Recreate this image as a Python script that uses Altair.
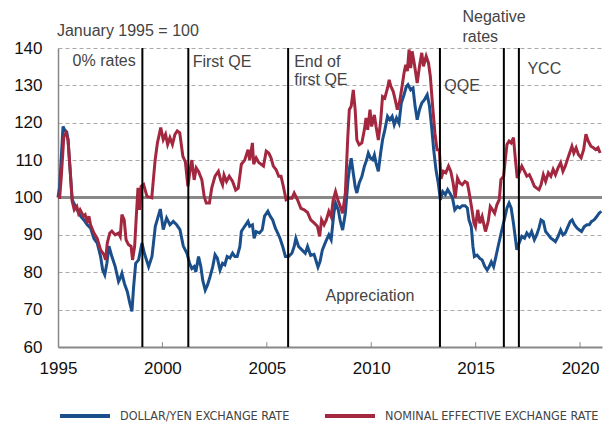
import altair as alt
import pandas as pd

S1 = "DOLLAR/YEN EXCHANGE RATE"
S2 = "NOMINAL EFFECTIVE EXCHANGE RATE"
BLUE = "#1b4f8b"
RED = "#a3283f"

blue_years = [1995.00, 1995.08, 1995.24, 1995.32, 1995.42, 1995.48, 1995.60, 1995.68, 1995.76, 1995.92,
              1996.08, 1996.24, 1996.40, 1996.56, 1996.72, 1996.88, 1997.04, 1997.14, 1997.24, 1997.34,
              1997.44, 1997.58, 1997.74, 1997.90, 1997.98, 1998.06, 1998.18, 1998.32, 1998.44, 1998.54,
              1998.62, 1998.72, 1998.86, 1999.02, 1999.14, 1999.34, 1999.50, 1999.66, 1999.90, 2000.04,
              2000.20, 2000.36, 2000.52, 2000.68, 2000.84, 2001.00, 2001.18, 2001.30, 2001.41, 2001.52,
              2001.60, 2001.73, 2001.84, 2001.93, 2002.05, 2002.16, 2002.28, 2002.41, 2002.52, 2002.63,
              2002.76, 2002.88, 2002.99, 2003.10, 2003.23, 2003.36, 2003.47, 2003.58, 2003.71, 2003.78,
              2003.94, 2004.10, 2004.18, 2004.31, 2004.39, 2004.49, 2004.65, 2004.78, 2004.89, 2005.05,
              2005.16, 2005.28, 2005.41, 2005.52, 2005.63, 2005.76, 2005.89, 2006.04, 2006.20, 2006.31,
              2006.39, 2006.52, 2006.68, 2006.84, 2006.95, 2007.10, 2007.26, 2007.45, 2007.55, 2007.66,
              2007.82, 2007.97, 2008.08, 2008.21, 2008.29, 2008.42, 2008.52, 2008.63, 2008.76, 2008.89,
              2008.97, 2009.04, 2009.14, 2009.23, 2009.31, 2009.42, 2009.55, 2009.67, 2009.78, 2009.86,
              2009.97, 2010.07, 2010.15, 2010.23, 2010.34, 2010.45, 2010.54, 2010.65, 2010.78, 2010.89,
              2011.00, 2011.10, 2011.21, 2011.33, 2011.44, 2011.57, 2011.68, 2011.76, 2011.89, 2012.00,
              2012.10, 2012.20, 2012.31, 2012.42, 2012.55, 2012.68, 2012.79, 2012.89, 2012.99, 2013.10,
              2013.21, 2013.31, 2013.42, 2013.55, 2013.66, 2013.76, 2013.89, 2014.00, 2014.13, 2014.24,
              2014.36, 2014.49, 2014.60, 2014.68, 2014.79, 2014.87, 2014.94, 2015.07, 2015.20, 2015.31,
              2015.44, 2015.55, 2015.65, 2015.75, 2015.86, 2015.97, 2016.09, 2016.22, 2016.37, 2016.50,
              2016.60, 2016.70, 2016.81, 2016.89, 2016.97, 2017.08, 2017.21, 2017.34, 2017.45, 2017.57,
              2017.68, 2017.81, 2017.92, 2018.03, 2018.13, 2018.24, 2018.35, 2018.48, 2018.60, 2018.71,
              2018.82, 2018.95, 2019.07, 2019.18, 2019.29, 2019.42, 2019.53, 2019.62, 2019.73, 2019.86,
              2019.97, 2020.07, 2020.20, 2020.33, 2020.44, 2020.55, 2020.67, 2020.80, 2020.91, 2021.02]
blue_vals = [100.0, 103.0, 119.0, 118.0, 117.5, 115.5, 105.7, 99.4, 98.5, 96.7,
             95.0, 94.0, 92.7, 91.8, 89.0, 87.8, 84.2, 80.6, 79.3, 82.4,
             87.0, 84.2, 81.5, 77.5, 78.4, 79.7, 77.0, 74.8, 71.7, 69.5,
             76.0, 82.4, 83.3, 87.8, 85.0, 81.5, 84.2, 92.3, 96.9, 91.4,
             94.5, 92.7, 93.6, 92.7, 91.4, 87.0, 85.0, 82.4, 81.0, 81.5,
             80.1, 84.2, 81.5, 77.9, 75.2, 76.6, 78.8, 81.5, 84.7, 83.8,
             80.6, 82.4, 82.0, 84.2, 83.8, 85.1, 84.2, 84.2, 86.9, 90.9,
             92.3, 93.6, 92.3, 92.7, 89.1, 90.9, 90.5, 91.4, 95.0, 96.3,
             95.0, 94.0, 91.8, 90.5, 89.1, 86.9, 84.2, 84.2, 85.1, 86.9,
             89.1, 86.9, 86.0, 85.1, 86.9, 84.5, 84.8, 81.4, 82.9, 86.0,
             88.2, 90.0, 88.7, 95.8, 98.5, 96.7, 93.6, 91.3, 95.8, 104.7,
             108.3, 110.5, 106.5, 102.9, 101.2, 103.8, 105.6, 108.3, 110.1, 111.9,
             110.5, 110.1, 111.4, 109.2, 107.0, 111.9, 115.4, 118.1, 121.7, 120.8,
             121.7, 119.5, 121.3, 119.9, 125.3, 127.5, 129.7, 130.2, 128.8, 129.3,
             124.4, 120.8, 123.5, 125.3, 126.2, 127.5, 124.4, 119.0, 112.8, 107.4,
             103.8, 99.4, 101.6, 100.8, 102.1, 101.2, 99.9, 96.7, 97.6, 97.2,
             97.8, 97.8, 97.2, 94.0, 92.2, 86.9, 84.2, 84.6, 83.7, 83.3,
             81.5, 80.6, 81.5, 82.8, 81.5, 84.2, 87.3, 90.5, 94.0, 97.2,
             98.5, 97.2, 93.1, 89.6, 86.0, 87.8, 89.6, 89.1, 90.5, 89.6,
             90.9, 88.7, 90.0, 91.8, 94.0, 93.6, 90.9, 90.0, 89.1, 88.7,
             88.2, 89.6, 91.3, 90.0, 90.5, 92.2, 93.6, 94.0, 92.7, 91.8,
             91.3, 90.9, 92.2, 92.7, 92.7, 93.6, 94.0, 94.9, 95.8, 96.3]

red_years = [1995.00, 1995.08, 1995.16, 1995.28, 1995.38, 1995.48, 1995.58, 1995.68, 1995.78, 1995.90,
             1995.98, 1996.06, 1996.22, 1996.30, 1996.40, 1996.48, 1996.56, 1996.72, 1996.88, 1997.04,
             1997.20, 1997.28, 1997.36, 1997.48, 1997.58, 1997.74, 1997.90, 1997.98, 1998.06, 1998.17,
             1998.26, 1998.37, 1998.50, 1998.57, 1998.67, 1998.75, 1998.83, 1998.91, 1998.98, 1999.10,
             1999.26, 1999.49, 1999.65, 1999.76, 1999.92, 2000.04, 2000.15, 2000.25, 2000.36, 2000.48,
             2000.60, 2000.71, 2000.83, 2000.98, 2001.10, 2001.22, 2001.33, 2001.41, 2001.52, 2001.62,
             2001.73, 2001.89, 2002.00, 2002.10, 2002.25, 2002.36, 2002.52, 2002.68, 2002.79, 2002.88,
             2002.95, 2003.07, 2003.20, 2003.36, 2003.51, 2003.63, 2003.78, 2003.94, 2004.10, 2004.18,
             2004.31, 2004.37, 2004.49, 2004.62, 2004.73, 2004.84, 2004.97, 2005.09, 2005.20, 2005.31,
             2005.44, 2005.57, 2005.68, 2005.79, 2005.92, 2006.04, 2006.20, 2006.31, 2006.47, 2006.63,
             2006.79, 2006.95, 2007.10, 2007.26, 2007.42, 2007.53, 2007.62, 2007.74, 2007.85, 2007.97,
             2008.08, 2008.18, 2008.29, 2008.40, 2008.52, 2008.63, 2008.76, 2008.87, 2008.95, 2009.04,
             2009.14, 2009.23, 2009.31, 2009.42, 2009.55, 2009.67, 2009.75, 2009.83, 2009.94, 2010.02,
             2010.15, 2010.23, 2010.34, 2010.45, 2010.54, 2010.65, 2010.78, 2010.86, 2010.94, 2011.05,
             2011.13, 2011.25, 2011.36, 2011.44, 2011.57, 2011.65, 2011.73, 2011.81, 2011.89, 2011.96,
             2012.07, 2012.20, 2012.31, 2012.42, 2012.50, 2012.63, 2012.74, 2012.83, 2012.94, 2013.05,
             2013.15, 2013.26, 2013.34, 2013.45, 2013.57, 2013.70, 2013.81, 2013.92, 2014.02, 2014.13,
             2014.24, 2014.36, 2014.49, 2014.60, 2014.68, 2014.81, 2014.92, 2014.99, 2015.10, 2015.20,
             2015.31, 2015.47, 2015.60, 2015.70, 2015.81, 2015.91, 2016.02, 2016.13, 2016.21, 2016.34,
             2016.42, 2016.50, 2016.60, 2016.70, 2016.81, 2016.89, 2016.99, 2017.08, 2017.21, 2017.34,
             2017.45, 2017.57, 2017.68, 2017.81, 2017.92, 2018.03, 2018.13, 2018.24, 2018.35, 2018.48,
             2018.60, 2018.71, 2018.82, 2018.95, 2019.07, 2019.18, 2019.29, 2019.42, 2019.50, 2019.61,
             2019.70, 2019.81, 2019.92, 2020.05, 2020.17, 2020.28, 2020.39, 2020.52, 2020.64, 2020.75,
             2020.86, 2020.96]
red_vals = [100.0, 100.0, 105.7, 116.4, 117.3, 115.5, 107.5, 99.0, 96.7, 97.6,
            95.8, 96.7, 95.0, 95.4, 93.2, 95.0, 92.7, 90.5, 89.0, 86.0,
            84.7, 83.3, 87.8, 90.5, 91.0, 90.0, 90.5, 89.6, 95.4, 94.0,
            88.7, 87.4, 86.9, 83.3, 86.9, 95.0, 102.6, 96.7, 103.0, 103.5,
            100.3, 99.9, 110.0, 114.6, 118.7, 115.5, 116.9, 114.2, 116.0, 114.2,
            116.9, 117.8, 117.3, 111.0, 109.5, 103.0, 107.5, 110.0, 104.7, 107.9,
            107.0, 104.7, 100.3, 98.5, 98.5, 102.5, 105.7, 107.0, 104.7, 103.4,
            106.0, 104.3, 105.7, 104.3, 102.0, 102.5, 108.9, 110.0, 112.8, 110.0,
            114.6, 108.9, 110.6, 109.3, 108.9, 108.4, 112.4, 111.9, 110.6, 108.4,
            107.5, 105.7, 105.7, 103.0, 99.4, 99.8, 99.8, 101.2, 99.4, 97.1,
            96.7, 96.0, 94.0, 93.2, 92.3, 89.6, 94.0, 92.7, 94.0, 96.3,
            94.9, 99.4, 101.6, 99.4, 97.6, 95.8, 101.2, 115.4, 123.5, 124.4,
            128.8, 123.5, 115.4, 114.1, 114.6, 118.1, 121.3, 118.1, 123.5, 119.0,
            122.1, 119.0, 115.4, 120.4, 127.0, 126.6, 129.3, 131.5, 129.7, 128.4,
            126.6, 123.5, 125.7, 128.4, 133.3, 135.5, 133.8, 139.6, 134.6, 139.1,
            135.5, 130.6, 135.1, 138.7, 135.1, 137.8, 136.0, 132.4, 124.4, 117.2,
            112.8, 112.8, 105.0, 107.0, 106.6, 108.4, 107.0, 103.9, 99.9, 105.2,
            103.9, 103.4, 104.3, 103.9, 101.6, 97.2, 93.1, 92.2, 96.7, 93.1,
            94.9, 90.9, 93.6, 97.6, 96.7, 95.8, 98.1, 99.4, 104.8, 105.7,
            110.2, 114.2, 115.1, 114.6, 116.0, 111.0, 105.2, 106.6, 108.4, 107.0,
            105.7, 106.1, 104.8, 103.0, 102.5, 102.1, 103.4, 106.1, 104.3, 106.6,
            105.7, 107.5, 106.1, 108.0, 109.3, 107.0, 108.4, 110.6, 111.9, 113.7,
            111.9, 113.3, 111.5, 110.6, 112.8, 116.9, 115.1, 113.7, 113.3, 112.8,
            113.3, 111.9]

event_years = [1999.04, 2001.24, 2006.02, 2013.29, 2016.35, 2017.07]

note_texts = ["January 1995 = 100", "0% rates", "First QE", "End of", "first QE",
              "QQE", "Negative", "rates", "YCC", "Appreciation"]
note_years = [1994.95, 1995.70, 2001.45, 2006.31, 2006.31, 2013.50, 2014.37, 2014.37, 2017.48, 2007.81]
note_vals = [143.2, 135.1, 134.8, 135.0, 130.0, 128.6, 147.0, 141.7, 133.0, 72.2]

x_ticks = [1995, 2000, 2005, 2010, 2015, 2020]
inner_ticks = [2000, 2005, 2010, 2015, 2020]
y_ticks = [60, 70, 80, 90, 100, 110, 120, 130, 140]

df = pd.concat([
    pd.DataFrame({"year": blue_years, "val": blue_vals, "series": S1}),
    pd.DataFrame({"year": red_years, "val": red_vals, "series": S2}),
], ignore_index=True)
events = pd.DataFrame({"year": event_years})
notes = pd.DataFrame({"year": note_years, "val": note_vals, "text": note_texts})
ticks = pd.DataFrame({"year": inner_ticks, "val": [60] * len(inner_ticks), "val2": [61.3] * len(inner_ticks)})

FONT = "Liberation Sans"
LEGEND_FONT = "DejaVu Sans Condensed, Liberation Sans, sans-serif"
xs = alt.Scale(domain=[1995, 2021.05], nice=False, zero=False)
ys = alt.Scale(domain=[60, 140], nice=False, zero=False)

x_axis = alt.Axis(values=x_ticks, format="d", title=None, grid=False, tickSize=0,
                  labelPadding=13, labelFontSize=17, labelFont=FONT, labelColor="#111",
                  domainColor="#888", domainWidth=2, labelFlush=False)
y_axis = alt.Axis(values=y_ticks, title=None, grid=True, gridDash=[4, 3], gridColor="#aaa",
                  gridWidth=1, tickSize=0, labelPadding=16, labelFontSize=17, labelFont=FONT,
                  labelColor="#111", domainColor="#888", domainWidth=1.5)

X = alt.X("year:Q", scale=xs, axis=x_axis)
Y = alt.Y("val:Q", scale=ys, axis=y_axis)

lines = alt.Chart(df).mark_line(strokeWidth=3).encode(
    x=X,
    y=Y,
    color=alt.Color("series:N",
                    scale=alt.Scale(domain=[S1, S2], range=[BLUE, RED]),
                    legend=alt.Legend(title=None, orient="none", legendX=0, legendY=341,
                                      direction="horizontal", symbolType="stroke",
                                      symbolSize=2500, symbolStrokeWidth=4,
                                      labelFontSize=12.5, labelFont=LEGEND_FONT,
                                      labelColor="#444", labelLimit=400, labelOffset=8,
                                      columnPadding=27, padding=0)),
)

hundred = alt.Chart(df).mark_rule(color="#888", strokeWidth=1.5).encode(
    y=alt.datum(100, scale=ys, axis=y_axis)
)

vlines = alt.Chart(events).mark_rule(color="black", strokeWidth=2).encode(
    x=X
)

tick_marks = alt.Chart(ticks).mark_rule(color="#888", strokeWidth=1).encode(
    x=X,
    y=Y,
    y2="val2:Q",
)

labels = alt.Chart(notes).mark_text(align="left", baseline="alphabetic", fontSize=16,
                                    font=FONT, color="#444").encode(
    x=X,
    y=Y,
    text="text:N",
)

chart = alt.layer(hundred, lines, vlines, tick_marks, labels).properties(
    width=544, height=299,
    padding={"left": 50, "top": 40, "right": 1, "bottom": 75},
    autosize=alt.AutoSizeParams(type="none"),
).configure_view(stroke=None)

chart.save("out.html", embed_options={"renderer": "svg", "actions": False})
